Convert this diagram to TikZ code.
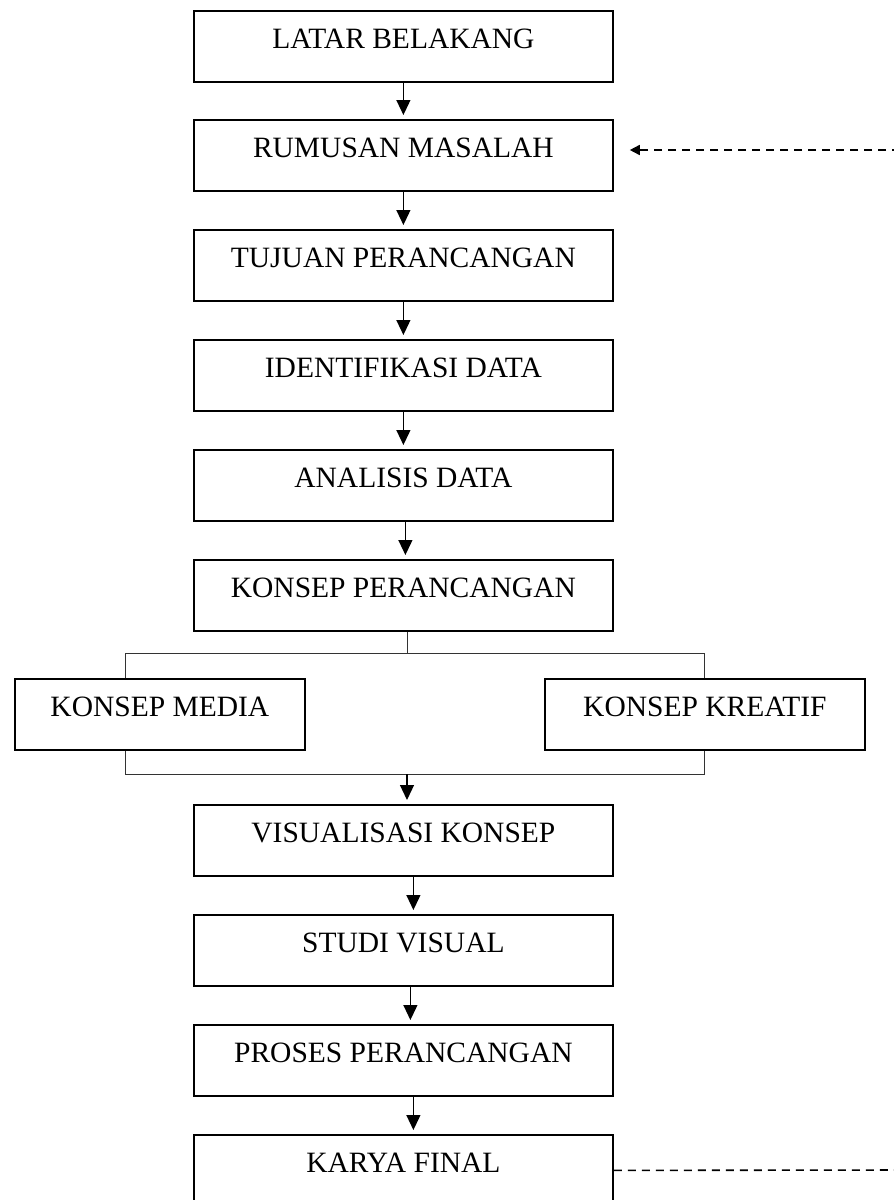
\documentclass[tikz,border=0pt]{standalone}
\usepackage{fontspec}
\setmainfont{Liberation Serif}
\usetikzlibrary{arrows.meta,calc}
\begin{document}
\begin{tikzpicture}[x=1pt,y=-1pt,
  box/.style={draw=black,line width=1.8pt,rectangle,inner sep=0pt,anchor=north west,
    minimum width=419pt,text height=38pt,text depth=33pt,
    font=\fontsize{29.5}{33}\selectfont},
  sidebox/.style={box,minimum width=#1},
  arr/.style={line width=1.2pt,-{Triangle[length=15pt,width=14pt]},shorten >=4pt},
  conn/.style={line width=0.9pt,draw=black!80},
  fb/.style={line width=1.6pt,dash pattern=on 8pt off 6pt}
]
\useasboundingbox (0,0) rectangle (894,1200);
\node[box] (lb) at (193,10) {LATAR BELAKANG};
\node[box] (rm) at (193,119) {RUMUSAN MASALAH};
\node[box] (tp) at (193,229) {TUJUAN PERANCANGAN};
\node[box] (id) at (193,339) {IDENTIFIKASI DATA};
\node[box] (ad) at (193,449) {ANALISIS DATA};
\node[box] (kp) at (193,559) {KONSEP PERANCANGAN};
\node[sidebox=290pt] (km) at (14,678) {KONSEP MEDIA};
\node[sidebox=320pt] (kk) at (544,678) {KONSEP KREATIF};
\node[box] (vk) at (193,804) {VISUALISASI KONSEP};
\node[box] (sv) at (193,914) {STUDI VISUAL};
\node[box] (pp) at (193,1024) {PROSES PERANCANGAN};
\node[box] (kf) at (193,1134) {KARYA FINAL};

\draw[arr] (lb.south) -- (rm.north);
\draw[arr] (rm.south) -- (tp.north);
\draw[arr] (tp.south) -- (id.north);
\draw[arr] (id.south) -- (ad.north);
\draw[arr] ([xshift=2pt]ad.south) -- ([xshift=2pt]kp.north);

\coordinate (jl) at (125,653);
\coordinate (jr) at (704,653);
\coordinate (bl) at (125,774);
\coordinate (br) at (704,774);
\coordinate (bm) at (407,774);
\draw[conn] ([xshift=4pt]kp.south) -- ([xshift=4pt]kp.south |- jl);
\draw[conn] (km.north -| jl) -- (jl) -- (jr) -- (kk.north -| jr);
\draw[conn] (km.south -| bl) -- (bl) -- (br) -- (kk.south -| br);
\draw[arr] (bm) -- (bm |- vk.north);

\draw[arr] ([xshift=10pt]vk.south) -- ([xshift=10pt]sv.north);
\draw[arr] ([xshift=7pt]sv.south) -- ([xshift=7pt]pp.north);
\draw[arr] ([xshift=10pt]pp.south) -- ([xshift=10pt]kf.north);

\coordinate (r1) at (900,150);
\coordinate (r2) at (900,1170);
\draw[fb,-{Triangle[length=10pt,width=10pt]},shorten >=16pt] (r1) -- (rm.east |- r1);
\draw[fb] (kf.east) -- (r2);
\end{tikzpicture}
\end{document}
